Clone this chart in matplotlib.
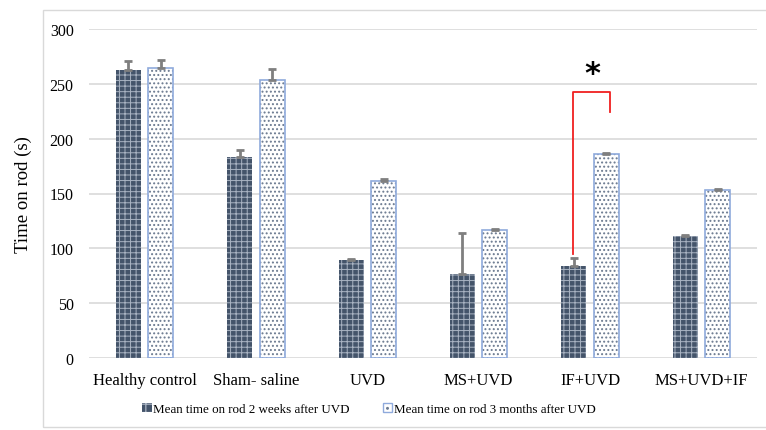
import numpy as np
import matplotlib.pyplot as plt
from matplotlib.patches import Rectangle, Patch
from matplotlib.legend_handler import HandlerPatch

plt.rcParams['font.family'] = ['Liberation Serif', 'DejaVu Serif']

groups = ['Healthy control', 'Sham- saline', 'UVD', 'MS+UVD', 'IF+UVD', 'MS+UVD+IF']
weeks2 = [263, 183, 89, 77, 84, 111]
weeks2_err = [8, 6.5, 1.5, 37, 7, 1.2]
months3 = [264, 253.5, 161, 117, 186, 153]
months3_err = [8, 10, 2.3, 1, 1, 1]
labels = ['Mean time on rod 2 weeks after UVD', 'Mean time on rod 3 months after UVD']

dark = '#44546A'
dark_hatch = '#A9B3C2'
light_edge = '#8FAADC'
light_dots = '#6B7A90'
err_col = '#7F7F7F'

fig = plt.figure(figsize=(7.66, 4.31), dpi=100)
fig.patches.append(Rectangle((43 / 766, 3 / 431), 1.0, 1 - 14 / 431, transform=fig.transFigure,
                             fill=False, edgecolor='#D9D9D9', linewidth=1.0))
ax = fig.add_axes([89 / 766, 1 - 359 / 431, 668 / 766, 329 / 431])

x = np.arange(len(groups))
w = 0.225
off = 0.146

# dark bars: fill, then hatch overlay
plt.rcParams['hatch.linewidth'] = 0.7
ax.bar(x - off, weeks2, w, color=dark, linewidth=0, zorder=3)
ax.bar(x - off, weeks2, w, facecolor='none', edgecolor=dark_hatch, hatch='+++', linewidth=0, zorder=4)
ax.errorbar(x - off, weeks2, yerr=[np.zeros(6), weeks2_err], fmt='none', ecolor=err_col,
            elinewidth=2, capsize=2.6, capthick=2, zorder=5)

# light bars
plt.rcParams['hatch.linewidth'] = 0.9
ax.bar(x + off, months3, w, color='white', linewidth=0, zorder=3)
ax.bar(x + off, months3, w, facecolor='none', edgecolor=light_dots, hatch='....', linewidth=0, zorder=4)
ax.bar(x + off, months3, w, facecolor='none', edgecolor=light_edge, linewidth=1.2, zorder=5)
ax.errorbar(x + off, months3, yerr=[np.zeros(6), months3_err], fmt='none', ecolor=err_col,
            elinewidth=2, capsize=2.6, capthick=2, zorder=5)

ax.set_xlim(-0.5, len(groups) - 0.5)
ax.set_ylim(0, 300)
ax.set_yticks(np.arange(0, 301, 50))
ax.yaxis.grid(True, color='#D9D9D9', linewidth=1.2, zorder=0)
ax.set_axisbelow(True)
for s in ax.spines.values():
    s.set_visible(False)
ax.tick_params(length=0, labelsize=11.5)
ax.tick_params(axis='x', labelsize=12, pad=10)
ax.tick_params(axis='y', pad=11)
ax.set_xticks(x)
ax.set_xticklabels(groups)
ax.set_ylabel('Time on rod (s)', fontsize=13.5, labelpad=13)

# significance bracket between IF+UVD bars
ax.plot([4 - 0.15, 4 - 0.15, 4 + 0.184, 4 + 0.184], [95, 243, 243, 224], color='#F02020',
        linewidth=1.3, zorder=6, clip_on=False)
ax.text(4.02, 259, '*', ha='center', va='center', fontsize=22, fontweight='bold',
        family='DejaVu Sans')

h1 = Patch(facecolor=dark, edgecolor=dark_hatch, hatch='++', linewidth=0)
h2 = Patch(facecolor='white', edgecolor=light_dots, hatch='..', linewidth=0)


class SquareHandler(HandlerPatch):
    def create_artists(self, legend, orig_handle, xdescent, ydescent, width, height, fontsize, trans):
        s = 7
        r = Rectangle((width - s, (height - s) / 2), s, s, facecolor=orig_handle.get_facecolor(),
                      edgecolor=orig_handle.get_edgecolor(), hatch=orig_handle.get_hatch(),
                      linewidth=0, transform=trans)
        out = [r]
        if orig_handle.get_facecolor()[0] == 1.0:
            out.append(Rectangle((width - s, (height - s) / 2), s, s, fill=False,
                                 edgecolor=light_edge, linewidth=1, transform=trans))
        return out


fig.legend([h1, h2], labels, loc='center', bbox_to_anchor=(369 / 766, 1 - 410 / 431),
           ncol=2, frameon=False, fontsize=9.4, handlelength=0.7, handletextpad=0.1,
           columnspacing=2.6, handler_map={Patch: SquareHandler()})

fig.savefig('out.png', dpi=100)
